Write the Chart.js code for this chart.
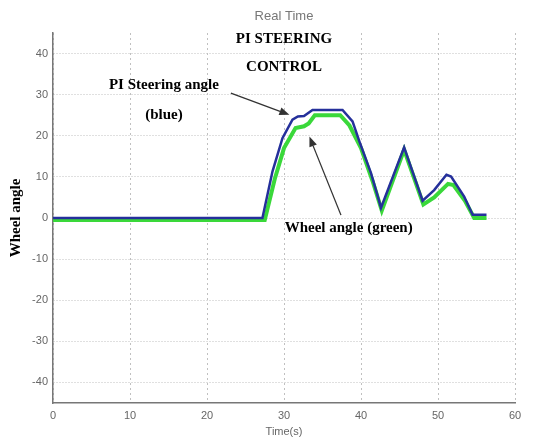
<!DOCTYPE html>
<html>
<head>
<meta charset="utf-8">
<script src="https://cdn.jsdelivr.net/npm/chart.js@4/dist/chart.umd.min.js"></script>
<style>
  html, body { margin: 0; padding: 0; background: #fff; }
</style>
</head>
<body>
<canvas id="grafico" width="535" height="444"></canvas>
<script>
// Ángulo de dirección del controlador PI (azul)
const tiempoPI = [0, 27.2, 28.5, 29.8, 31.1, 31.8, 32.6, 33.7, 37.6, 38.9, 39.8, 41.3, 42.6, 45.6, 48.0, 49.5, 51.1, 51.7, 53.4, 54.5, 56.3]
const anguloPI = [0, 0, 11.3, 19.4, 23.9, 24.7, 24.8, 26.3, 26.3, 23.5, 18.6, 10.9, 2.5, 17.2, 4.2, 6.8, 10.5, 10.1, 5.2, 0.8, 0.8]

// Ángulo de la rueda (verde)
const tiempoRueda = [0, 27.5, 28.8, 30.0, 31.5, 32.6, 33.2, 34.0, 37.3, 38.5, 40.0, 41.5, 42.7, 45.6, 48.1, 49.5, 51.3, 52.0, 53.5, 54.7, 56.3]
const anguloRueda = [-0.5, -0.5, 9.5, 17.0, 21.9, 22.3, 23.0, 25.0, 25.0, 22.5, 17.0, 9.0, 1.8, 16.6, 3.3, 5.0, 8.3, 8.0, 4.2, 0, 0]

// Marcas de los ejes
const ticksX = [0, 10, 20, 30, 40, 50, 60]
const ticksY = [40, 30, 20, 10, 0, -10, -20, -30, -40]

const puntos = (xs, ys) => xs.map((x, i) => ({ x: x, y: ys[i] }))

const fuenteEje = { family: 'Liberation Sans, Arial, sans-serif', size: 11, weight: 'normal' }
const fuenteNota = 'bold 15px "Liberation Serif", "Times New Roman", serif'

// Textos y flechas sobre el gráfico (en coordenadas de datos)
const notas = {
  id: 'notas',
  afterDatasetsDraw(chart) {
    const { ctx, scales: { x, y } } = chart
    const px = (t) => x.getPixelForValue(t)
    const py = (v) => y.getPixelForValue(v)

    ctx.save()
    ctx.fillStyle = '#000'
    ctx.font = fuenteNota
    ctx.textAlign = 'center'
    ctx.textBaseline = 'middle'
    ctx.fillText('PI STEERING', px(30), py(43.4))
    ctx.fillText('CONTROL', px(30), py(36.6))
    ctx.fillText('PI Steering angle', px(14.4), py(32.2))
    ctx.fillText('(blue)', px(14.4), py(25.1))
    ctx.fillText('Wheel angle (green)', px(38.4), py(-2.4))

    const flecha = (t0, v0, t1, v1) => {
      const x0 = px(t0), y0 = py(v0), x1 = px(t1), y1 = py(v1)
      const ang = Math.atan2(y1 - y0, x1 - x0)
      const largo = 10, ancho = 4
      ctx.strokeStyle = '#333'
      ctx.lineWidth = 1.3
      ctx.beginPath()
      ctx.moveTo(x0, y0)
      ctx.lineTo(x1 - Math.cos(ang) * largo, y1 - Math.sin(ang) * largo)
      ctx.stroke()
      ctx.fillStyle = '#333'
      ctx.beginPath()
      ctx.moveTo(x1, y1)
      ctx.lineTo(x1 - Math.cos(ang) * largo - Math.sin(ang) * ancho, y1 - Math.sin(ang) * largo + Math.cos(ang) * ancho)
      ctx.lineTo(x1 - Math.cos(ang) * largo + Math.sin(ang) * ancho, y1 - Math.sin(ang) * largo - Math.cos(ang) * ancho)
      ctx.closePath()
      ctx.fill()
    }
    flecha(23.1, 30.4, 30.7, 25.1)
    flecha(37.4, 0.7, 33.3, 19.8)
    ctx.restore()
  }
}

new Chart(document.getElementById('grafico'), {
  type: 'line',
  data: {
    datasets: [{
      label: 'PI Steering angle',
      data: puntos(tiempoPI, anguloPI),
      borderColor: '#25309b',
      borderWidth: 2.5,
      pointRadius: 0,
      tension: 0
    }, {
      label: 'Wheel angle',
      data: puntos(tiempoRueda, anguloRueda),
      borderColor: '#3ad83a',
      borderWidth: 4,
      pointRadius: 0,
      tension: 0
    }]
  },
  options: {
    responsive: false,
    animation: false,
    devicePixelRatio: 1,
    layout: { padding: { left: 0, right: 20, top: 0, bottom: 0 } },
    plugins: {
      legend: { display: false },
      tooltip: { enabled: false },
      title: {
        display: true,
        fullSize: false,
        text: 'Real Time',
        color: '#777',
        font: { family: 'Liberation Sans, Arial, sans-serif', size: 13, weight: 'normal' },
        padding: { top: 8.2, bottom: 9.2 }
      }
    },
    scales: {
      x: {
        type: 'linear',
        min: 0,
        max: 60,
        afterBuildTicks: (eje) => { eje.ticks = ticksX.map(v => ({ value: v })) },
        afterFit: (eje) => { eje.height = 41 },
        ticks: { color: '#666', font: fuenteEje, padding: 6, maxRotation: 0 },
        grid: { color: '#c0c0c0', drawTicks: false },
        border: { color: '#777', width: 1.5, dash: [2, 3] },
        title: {
          display: true,
          text: 'Time(s)',
          color: '#666',
          font: fuenteEje,
          padding: { top: 0, bottom: 5.5 }
        }
      },
      y: {
        min: -45,
        max: 45,
        afterBuildTicks: (eje) => { eje.ticks = ticksY.map(v => ({ value: v })) },
        afterFit: (eje) => { eje.width = 53 },
        ticks: { color: '#666', font: fuenteEje, padding: 5 },
        grid: { color: '#c0c0c0', drawTicks: false },
        border: { color: '#777', width: 1.5, dash: [1, 2] },
        title: {
          display: true,
          text: 'Wheel angle',
          color: '#000',
          font: { family: 'Liberation Serif, Times New Roman, serif', size: 15, weight: 'bold' },
          padding: { top: 7, bottom: 0 }
        }
      }
    }
  },
  plugins: [notas]
})
</script>
</body>
</html>
